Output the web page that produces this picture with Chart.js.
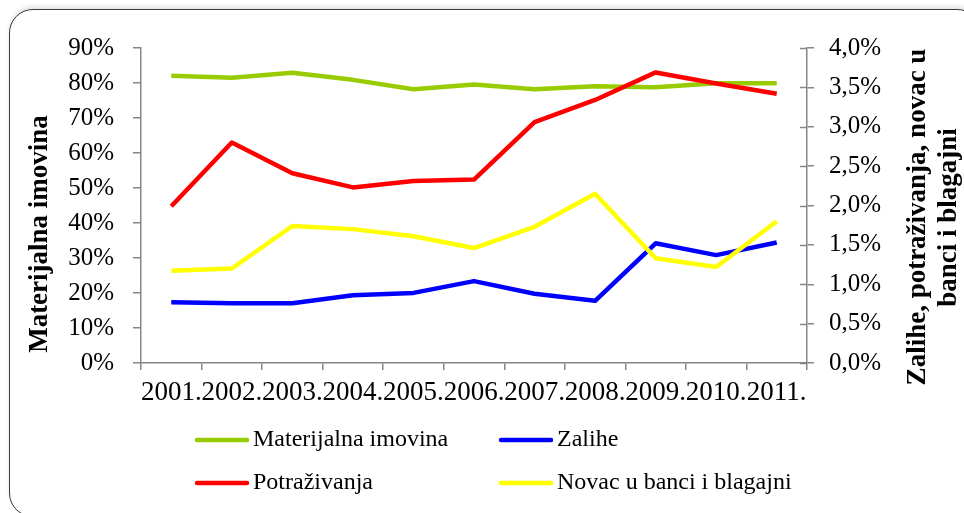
<!DOCTYPE html>
<html><head><meta charset="utf-8">
<script src="https://cdn.jsdelivr.net/npm/chart.js@4"></script>
<style>
html,body{margin:0;padding:0;background:#fff;overflow:hidden}
#wrap{position:relative;width:964px;height:513px;overflow:hidden}
#frame{position:absolute;left:9px;top:9px;width:972px;height:508px;border:1.5px solid #3a3a3a;border-radius:24px;box-shadow:1px -2px 5px rgba(0,0,0,0.15);box-sizing:border-box;background:#fff}
canvas{position:absolute;left:0;top:0}
</style></head><body>
<div id="wrap"><div id="frame"></div><canvas id="c" width="964" height="513"></canvas></div>
<script>
const categories = ['2001.','2002.','2003.','2004.','2005.','2006.','2007.','2008.','2009.','2010.','2011.'];
const materijalnaImovina = [82.1, 81.5, 82.9, 80.9, 78.2, 79.6, 78.2, 79.1, 78.8, 79.9, 79.9];
const zalihe = [0.77, 0.76, 0.76, 0.86, 0.89, 1.04, 0.88, 0.79, 1.52, 1.37, 1.53];
const potrazivanja = [1.99, 2.80, 2.41, 2.23, 2.31, 2.33, 3.06, 3.34, 3.69, 3.55, 3.42];
const novac = [1.17, 1.20, 1.74, 1.70, 1.61, 1.46, 1.73, 2.15, 1.33, 1.22, 1.80];
const seriesLabels = ['Materijalna imovina', 'Zalihe', 'Potraživanja', 'Novac u banci i blagajni'];
const seriesColors = ['#99CC00', '#0000FF', '#FF0000', '#FFFF00'];
const leftTickMax = 90, leftTickStep = 10;
const rightTickMax = 4, rightTickStep = 0.5;
const leftTitle = 'Materijalna imovina';
const rightTitle = ['Zalihe, potraživanja, novac u', 'banci i blagajni'];

const SERIF = "'Liberation Serif'";
const AXIS_COLOR = '#868686';

const extras = {
  id: 'extras',
  afterDraw(chart) {
    const ctx = chart.ctx;
    const y2 = chart.scales.y2;
    ctx.save();
    ctx.strokeStyle = AXIS_COLOR; ctx.lineWidth = 1.5;
    y2.ticks.forEach(t => {
      const py = Math.round(y2.getPixelForValue(t.value)) + 0.5;
      ctx.beginPath(); ctx.moveTo(y2.left - 7, py); ctx.lineTo(y2.left, py); ctx.stroke();
    });
    ctx.restore();
    ctx.save();
    ctx.fillStyle = '#000';
    ctx.font = 'bold 27px ' + SERIF;
    ctx.textAlign = 'center'; ctx.textBaseline = 'alphabetic';
    ctx.save(); ctx.translate(46.5, 234); ctx.rotate(-Math.PI / 2); ctx.fillText(leftTitle, 0, 0); ctx.restore();
    ctx.save(); ctx.translate(925, 217); ctx.rotate(-Math.PI / 2); ctx.fillText(rightTitle[0], 0, 0); ctx.restore();
    ctx.save(); ctx.translate(955.5, 217.5); ctx.rotate(-Math.PI / 2); ctx.fillText(rightTitle[1], 0, 0); ctx.restore();
    ctx.restore();
    const pos = [[195, 440], [499, 440], [195, 483], [499, 483]];
    ctx.save();
    ctx.font = '24px ' + SERIF;
    ctx.textAlign = 'left'; ctx.textBaseline = 'middle';
    chart.data.datasets.forEach((ds, i) => {
      const [lx, ly] = pos[i];
      ctx.strokeStyle = ds.borderColor; ctx.lineWidth = 4.5; ctx.lineCap = 'round';
      ctx.beginPath(); ctx.moveTo(lx + 2, ly); ctx.lineTo(lx + 52, ly); ctx.stroke();
      ctx.fillStyle = '#000';
      ctx.fillText(ds.label, lx + 58, ly);
    });
    ctx.restore();
  }
};

const mk = (i, data, axis, order) => ({
  label: seriesLabels[i], data, yAxisID: axis, borderColor: seriesColors[i], backgroundColor: seriesColors[i],
  borderWidth: 4.5, pointRadius: 0, fill: false, tension: 0, borderJoinStyle: 'round', order
});

function build() {
  new Chart(document.getElementById('c'), {
    type: 'line',
    data: {
      labels: categories,
      datasets: [
        mk(0, materijalnaImovina, 'y', 3),
        mk(1, zalihe, 'y2', 2),
        mk(2, potrazivanja, 'y2', 1),
        mk(3, novac, 'y2', 0)
      ]
    },
    options: {
      responsive: false, animation: false, devicePixelRatio: 1,
      layout: { padding: { top: 48, bottom: 100, left: 0, right: 0 } },
      plugins: { legend: { display: false }, tooltip: { enabled: false } },
      scales: {
        x: {
          type: 'category', offset: true,
          grid: { offset: true, drawOnChartArea: false, tickLength: 7, color: AXIS_COLOR, lineWidth: 1.5 },
          border: { color: AXIS_COLOR, width: 1.5 },
          ticks: { font: { family: SERIF, size: 27 }, color: '#000', padding: 7, maxRotation: 0, autoSkip: false },
          afterFit(s) { s.height = 50; }
        },
        y: {
          position: 'left', min: 0, max: leftTickMax,
          grid: { drawOnChartArea: false, tickLength: 8, color: AXIS_COLOR, lineWidth: 1.5 },
          border: { color: AXIS_COLOR, width: 1.5 },
          ticks: { stepSize: leftTickStep, font: { family: SERIF, size: 25 }, color: '#000', padding: 19, callback: v => v + '%' },
          afterFit(s) { s.width = 141; }
        },
        y2: {
          position: 'right', min: 0, max: rightTickMax,
          grid: { drawOnChartArea: false, tickLength: 7, color: AXIS_COLOR, lineWidth: 1.5 },
          border: { color: AXIS_COLOR, width: 1.5 },
          ticks: { stepSize: rightTickStep, font: { family: SERIF, size: 25 }, color: '#000', padding: 15, callback: v => v.toFixed(1).replace('.', ',') + '%' },
          afterFit(s) { s.width = 157; }
        }
      }
    },
    plugins: [extras]
  });
}
const loads = document.fonts ? Promise.all([
  document.fonts.load("24px 'Liberation Serif'"),
  document.fonts.load("bold 27px 'Liberation Serif'")
]).catch(() => {}) : Promise.resolve();
loads.then(build, build);
</script>
</body></html>
